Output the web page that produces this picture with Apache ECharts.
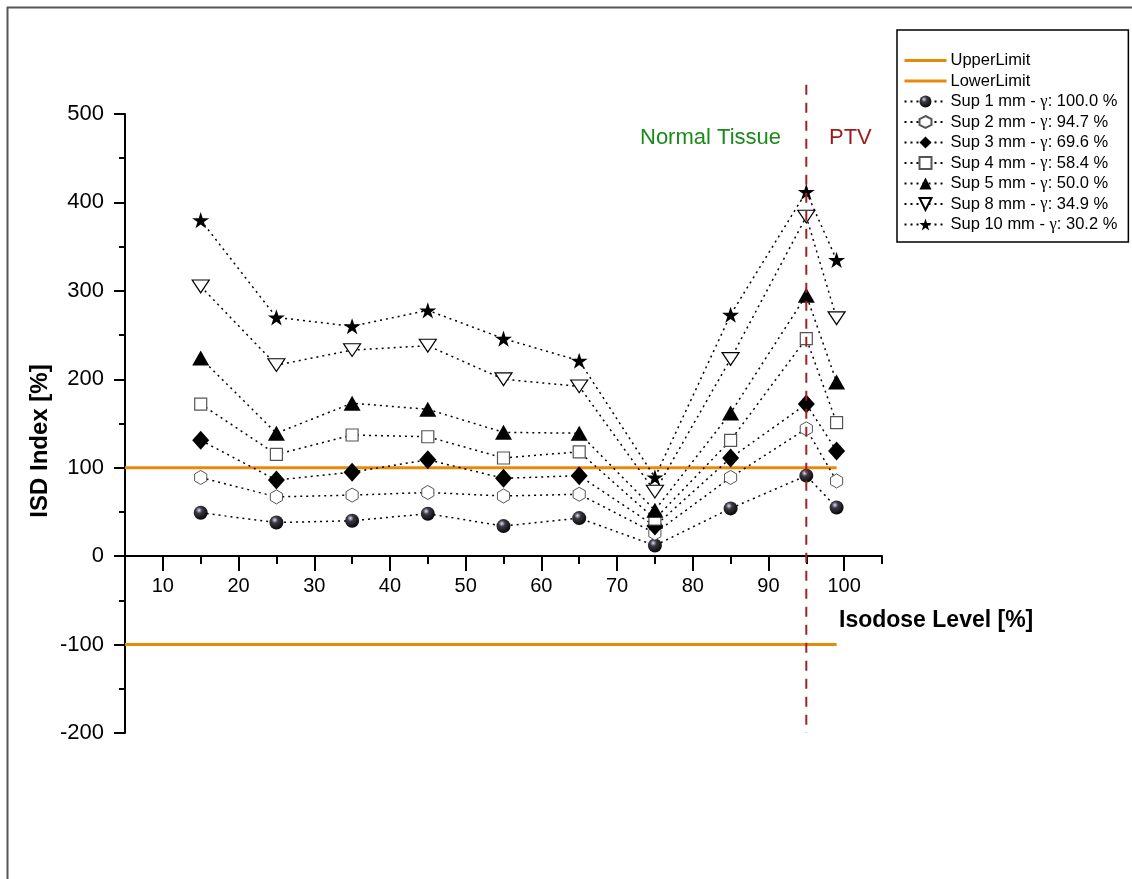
<!DOCTYPE html>
<html>
<head>
<meta charset="utf-8">
<script src="https://cdn.jsdelivr.net/npm/echarts@6/dist/echarts.min.js"></script>
<style>html,body{margin:0;padding:0;background:#fff;}#c{width:1132px;height:879px;}</style>
</head>
<body>
<div id="c"></div>
<script>
// ---- data ----
const isodoseLevels = [15, 25, 35, 45, 55, 65, 75, 85, 95, 99];
const sup1  = [49, 38, 40, 48, 34, 43, 12, 54, 91, 55];
const sup2  = [89, 67, 69, 72, 68, 70, 26, 89, 144, 85];
const sup3  = [131, 86, 95, 109, 88, 91, 34, 111, 172, 119];
const sup4  = [172, 115, 137, 135, 111, 118, 42, 131, 246, 151];
const sup5  = [224, 139, 173, 166, 140, 139, 52, 162, 295, 197];
const sup8  = [305, 216, 233, 238, 200, 192, 73, 223, 384, 269];
const sup10 = [380, 270, 260, 278, 246, 221, 89, 273, 412, 335];
const seriesNames = [
  'Sup 1 mm - γ: 100.0 %', 'Sup 2 mm - γ: 94.7 %', 'Sup 3 mm - γ: 69.6 %',
  'Sup 4 mm - γ: 58.4 %', 'Sup 5 mm - γ: 50.0 %', 'Sup 8 mm - γ: 34.9 %',
  'Sup 10 mm - γ: 30.2 %'
];
const upperLimit = 100, lowerLimit = -100;
const limitRange = [5, 99];
const ptvBoundary = 95;
const ptvLineRange = [533, -200];
const xTickLabels = [10, 20, 30, 40, 50, 60, 70, 80, 90, 100];

// ---- styles ----
const ORANGE = '#e8890c';
const sphere = {type: 'radial', x: 0.38, y: 0.32, r: 0.75, colorStops: [
  {offset: 0, color: '#e0e0f0'}, {offset: 0.3, color: '#3a3a44'}, {offset: 1, color: '#000'}]};
const HEX = 'path://M0,-1L0.866,-0.5L0.866,0.5L0,1L-0.866,0.5L-0.866,-0.5Z';
const DTRI = 'path://M-1,-0.8L1,-0.8L0,0.9Z';
const STAR = 'path://M0,-1L0.2245,-0.309L0.951,-0.309L0.363,0.118L0.588,0.809L0,0.382L-0.588,0.809L-0.363,0.118L-0.951,-0.309L-0.2245,-0.309Z';
const markerDefs = [
  {symbol: 'circle', size: 14, item: {color: sphere}},
  {symbol: HEX, size: 14, item: {color: '#fff', borderColor: '#555', borderWidth: 1}},
  {symbol: 'diamond', size: [17, 19], item: {color: '#000'}},
  {symbol: 'rect', size: 12, item: {color: '#fff', borderColor: '#555', borderWidth: 1.2}},
  {symbol: 'triangle', size: [17, 15], item: {color: '#000'}},
  {symbol: DTRI, size: [17, 15], item: {color: '#fff', borderColor: '#000', borderWidth: 1.2}},
  {symbol: STAR, size: 17, item: {color: '#000'}}
];
const allSeries = [sup1, sup2, sup3, sup4, sup5, sup8, sup10];

const series = [
  {name: 'UpperLimit', type: 'line', symbol: 'circle', showSymbol: false, data: limitRange.map(x => [x, upperLimit]),
   lineStyle: {color: ORANGE, width: 3}, itemStyle: {color: ORANGE, opacity: 0}, z: 3},
  {name: 'LowerLimit', type: 'line', symbol: 'circle', showSymbol: false, data: limitRange.map(x => [x, lowerLimit]),
   lineStyle: {color: ORANGE, width: 3}, itemStyle: {color: ORANGE, opacity: 0}, z: 3}
];
allSeries.forEach((vals, i) => {
  const m = markerDefs[i];
  series.push({
    name: seriesNames[i], type: 'line',
    data: isodoseLevels.map((x, j) => [x, vals[j]]),
    symbol: m.symbol, symbolSize: m.size, symbolKeepAspect: true, showSymbol: true,
    lineStyle: {color: '#000', width: 1.5, type: [2, 4]},
    itemStyle: m.item, z: 4 + i
  });
});
series.push({
  name: 'ptv', type: 'line', symbol: 'none', clip: false, silent: true,
  data: ptvLineRange.map(v => [ptvBoundary, v]),
  lineStyle: {color: '#9e2228', width: 2, type: [10, 8]}, z: 20
});

const chart = echarts.init(document.getElementById('c'), null, {renderer: 'canvas'});
chart.setOption({
  animation: false,
  backgroundColor: '#fff',
  textStyle: {fontFamily: 'Liberation Sans, Arial, sans-serif'},
  grid: {left: 125, right: 250, top: 114, bottom: 146},
  xAxis: {
    type: 'value', min: 5, max: 105, interval: 10, position: 'bottom', offset: -177,
    axisLine: {onZero: false, lineStyle: {color: '#000', width: 2}},
    axisTick: {length: 8, lineStyle: {color: '#000', width: 2}},
    minorTick: {show: true, splitNumber: 2, length: 15, lineStyle: {color: '#000', width: 2}},
    axisLabel: {customValues: xTickLabels, color: '#000', fontSize: 20, margin: 20},
    splitLine: {show: false}
  },
  yAxis: {
    type: 'value', min: -200, max: 500, interval: 100,
    axisLine: {show: true, onZero: false, lineStyle: {color: '#000', width: 2}},
    axisTick: {show: true, length: 11, lineStyle: {color: '#000', width: 2}},
    minorTick: {show: true, splitNumber: 2, length: 6, lineStyle: {color: '#000', width: 2}},
    axisLabel: {color: '#000', fontSize: 22, margin: 21},
    splitLine: {show: false}
  },
  legend: {
    data: [{name: 'UpperLimit', lineStyle: {width: 3}}, {name: 'LowerLimit', lineStyle: {width: 3}}].concat(seriesNames),
    orient: 'vertical', left: 897, top: 30,
    padding: [22, 11, 9, 6], itemGap: 3.5, itemWidth: 42, itemHeight: 15,
    backgroundColor: '#fff', borderColor: '#000', borderWidth: 1.5, borderRadius: 0,
    selectedMode: false,
    textStyle: {color: '#000', fontSize: 16.5, padding: [0, 0, 0, -1],
      rich: {g: {fontFamily: 'Liberation Serif, Times New Roman, serif', fontSize: 16.5, color: '#000'}}},
    formatter: n => n.replace('γ', '{g|γ}')
  },
  graphic: [
    {type: 'line', shape: {x1: 7.5, y1: 7, x2: 7.5, y2: 879}, style: {stroke: '#555', lineWidth: 2}, silent: true},
    {type: 'line', shape: {x1: 7, y1: 7.5, x2: 1132, y2: 7.5}, style: {stroke: '#555', lineWidth: 2}, silent: true},
    {type: 'text', left: 640, top: 127, style: {text: 'Normal Tissue', fill: '#1a8a1a', font: '22px Liberation Sans, Arial, sans-serif'}},
    {type: 'text', left: 829, top: 127, style: {text: 'PTV', fill: '#9b1b1b', font: '22px Liberation Sans, Arial, sans-serif'}},
    {type: 'text', left: 839, top: 609, style: {text: 'Isodose Level [%]', fill: '#000', font: 'bold 23px Liberation Sans, Arial, sans-serif'}},
    {type: 'text', x: 40, y: 441, rotation: Math.PI / 2,
     style: {text: 'ISD Index [%]', fill: '#000', font: 'bold 24px Liberation Sans, Arial, sans-serif', align: 'center', verticalAlign: 'middle'}}
  ],
  series: series
});
</script>
</body>
</html>
